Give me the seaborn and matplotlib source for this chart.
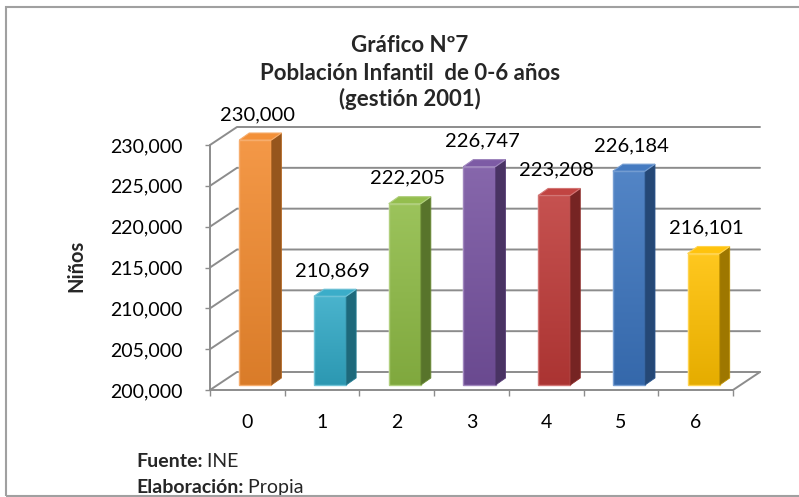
import numpy as np
import pandas as pd
import matplotlib
matplotlib.use("Agg")
import matplotlib.pyplot as plt
import seaborn as sns
from matplotlib.patches import Polygon, Rectangle
from matplotlib.colors import to_rgb

# datos
edades = ["0", "1", "2", "3", "4", "5", "6"]
ninos = [230000, 210869, 222205, 226747, 223208, 226184, 216101]
colores = ["#F28A2E", "#31A9C6", "#8EBB45", "#7652A0", "#BE3A38", "#3B74BE", "#FFC000"]
y_ticks = [200000, 205000, 210000, 215000, 220000, 225000, 230000]
titulo = ["Gráfico Nº7", "Población Infantil  de 0-6 años", "(gestión 2001)"]

sns.set_theme(style="white")
plt.rcParams['font.family'] = ['Lato', 'DejaVu Sans']

W, H = 799, 497
fig = plt.figure(figsize=(W / 100, H / 100), dpi=100)

# front plane of the fake 3d box (pixels)
x0, x1 = 210, 733
y_top, y_bot = 145, 390
ax = fig.add_axes([x0 / W, 1 - y_bot / H, (x1 - x0) / W, (y_bot - y_top) / H])

df = pd.DataFrame({"edad": edades, "ninos": ninos})
sns.barplot(data=df, x="edad", y="ninos", hue="edad", palette=colores,
            width=0.43, saturation=1, legend=False, ax=ax)
bars = list(ax.patches)

ymin, ymax = y_ticks[0], y_ticks[-1]
ax.set_xlim(-0.5, 6.5)
ax.set_ylim(ymin, ymax)
ax.set_autoscale_on(False)
ax.set_facecolor("none")
sns.despine(ax=ax, left=True, bottom=True)


def px(dx, dy):
    # pixel offset -> data offset (dy upwards)
    return dx * 7 / (x1 - x0), dy * (ymax - ymin) / (y_bot - y_top)


def shade(c, f):
    r = np.array(to_rgb(c))
    if f >= 1:
        return tuple(r + (1 - r) * (f - 1))
    return tuple(r * f)


wdx, wdy = px(27, 18)   # wall depth
bdx, bdy = px(8, 5)     # bar front plane offset
ddx, ddy = px(10, 7)    # bar depth

grid = "#8C8C8C"
xl, xr = -0.5, 6.5
for v in y_ticks:
    ax.plot([xl, xl + wdx, xr + wdx], [v, v + wdy, v + wdy], color=grid,
            lw=1.4, clip_on=False, zorder=0.5)
ax.plot([xr, xr + wdx], [ymin, ymin + wdy], color=grid, lw=1.4, clip_on=False, zorder=0.5)
ax.plot([xl, xr], [ymin, ymin], color=grid, lw=1.4, clip_on=False, zorder=0.5)
ax.plot([xl, xl], [ymin, ymax], color=grid, lw=1.4, clip_on=False, zorder=0.5)

for bar, v, c in zip(bars, ninos, colores):
    bar.set_x(bar.get_x() + bdx)
    bar.set_y(ymin + bdy)
    bar.set_height(v - ymin)
    bar.set_clip_on(False)
    bar.set_zorder(2)
    xa, xb = bar.get_x(), bar.get_x() + bar.get_width()
    yb, yt = bar.get_y(), bar.get_y() + bar.get_height()
    # vertical gradient on the front face
    top_c, bot_c = np.array(shade(c, 1.12)), np.array(shade(c, 0.9))
    t = np.linspace(0, 1, 64)[:, None]
    grad = (top_c * (1 - t) + bot_c * t)[:, None, :]
    im = ax.imshow(grad, extent=(xa, xb, yb, yt), aspect="auto", zorder=2.05,
                   interpolation="bilinear")
    im.set_clip_on(False)
    ax.add_patch(Rectangle((xa, yb), xb - xa, yt - yb, fill=False,
                           ec=shade(c, 1.3), lw=1, zorder=2.1, clip_on=False))
    ax.add_patch(Polygon([(xb, yb), (xb + ddx, yb + ddy), (xb + ddx, yt + ddy), (xb, yt)],
                         closed=True, fc=shade(c, 0.62), ec=shade(c, 0.75), lw=0.6,
                         zorder=2.1, clip_on=False))
    ax.add_patch(Polygon([(xa, yt), (xb, yt), (xb + ddx, yt + ddy), (xa + ddx, yt + ddy)],
                         closed=True, fc=shade(c, 1.05), ec=shade(c, 1.3), lw=0.8,
                         zorder=2.1, clip_on=False))
    ax.annotate(f"{v:,}", xy=(bar.get_x() + bar.get_width() / 2 - bdx, v),
                xytext=(7.6, 18), textcoords="offset points", ha="center",
                va="baseline", fontsize=14.5, color="black", annotation_clip=False)

# axes ticks
ax.set_yticks(y_ticks, labels=[f"{v:,}" for v in y_ticks])
ax.tick_params(axis="y", left=True, length=3.6, width=1, color=grid, pad=16,
               labelsize=14, labelcolor="black")
ax.set_xticks(np.arange(-0.5, 7, 1), labels=[""] * 8)
ax.set_xticks(range(len(edades)), labels=edades, minor=True)
ax.tick_params(axis="x", which="major", bottom=True, length=4.5, width=1, color=grid)
ax.tick_params(axis="x", which="minor", bottom=True, length=0, pad=17,
               labelsize=14, labelcolor="black")
ax.set_xlabel("")
ax.set_ylabel("")

for linea, yc in zip(titulo, [46, 73, 99]):
    fig.text(410 / W, 1 - yc / H, linea, ha="center", va="center", fontsize=16,
             fontweight="bold")
fig.text(76 / W, 1 - 266 / H, "Niños", rotation=90, ha="center", va="center",
         fontsize=14.5, fontweight="bold")

t1 = fig.text(136 / W, 1 - 467 / H, "Fuente:", fontsize=14, fontweight="bold", va="baseline")
ax.annotate(" INE", xy=(1, 0), xycoords=t1, va="bottom", fontsize=14, annotation_clip=False)
t2 = fig.text(136 / W, 1 - 493 / H, "Elaboración:", fontsize=14, fontweight="bold", va="baseline")
ax.annotate(" Propia", xy=(1, 0), xycoords=t2, va="bottom", fontsize=14, annotation_clip=False)

fig.add_artist(Rectangle((6 / W, 1 - 496 / H), 1, (496 - 7) / H, transform=fig.transFigure,
                         fill=False, ec="#A0A0A0", lw=1.5))

fig.savefig("out.png", dpi=100)
